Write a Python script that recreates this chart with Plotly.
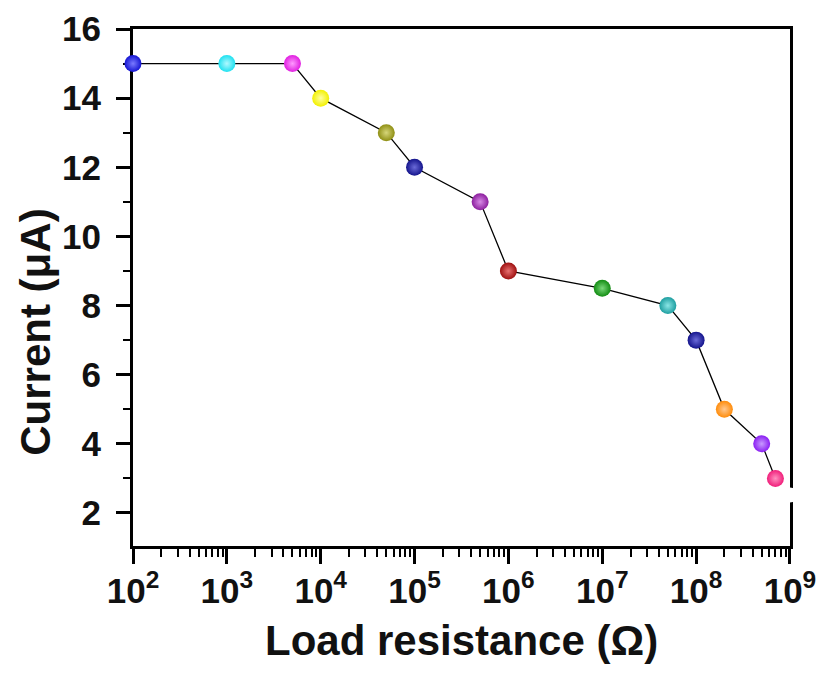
import plotly.graph_objects as go

# Data
resistance = [1e2, 1e3, 5e3, 1e4, 5e4, 1e5, 5e5, 1e6, 1e7, 5e7, 1e8, 2e8, 5e8, 7e8]
current = [15, 15, 15, 14, 13, 12, 11, 9, 8.5, 8, 7, 5, 4, 3]
colors = ["#1414d2", "#1ee1f0", "#e01ee0", "#f2f000", "#8f8f14", "#14148c",
          "#8c1e9e", "#9e1010", "#128c12", "#1e9ea0", "#14148c", "#ff8c0a",
          "#8a1ef2", "#f01e7a"]
light = ["#7a7aff", "#b0f8ff", "#ff9aff", "#ffffa0", "#d6d67a", "#6a6ad8",
         "#d88ae6", "#e87070", "#7ad87a", "#8ae6e6", "#6a6ad8", "#ffc890",
         "#c89aff", "#ff90c0"]
extra_resistance = [1e9]
extra_current = [2.52]

x_tickvals = [1e2, 1e3, 1e4, 1e5, 1e6, 1e7, 1e8, 1e9]
x_ticktext = ["10<sup>2</sup>", "10<sup>3</sup>", "10<sup>4</sup>", "10<sup>5</sup>",
              "10<sup>6</sup>", "10<sup>7</sup>", "10<sup>8</sup>", "10<sup>9</sup>"]
y_ticks = [2, 4, 6, 8, 10, 12, 14, 16]
y_minor = [3, 5, 7, 9, 11, 13, 15]

font_family = "Liberation Sans, Arial, sans-serif"
title_font = dict(family=font_family, size=42, color="#111", weight="bold")

fig = go.Figure()
fig.add_trace(go.Scatter(
    x=resistance, y=current, mode="lines",
    line=dict(color="black", width=1.3),
    hoverinfo="skip", cliponaxis=False, showlegend=False))
fig.add_trace(go.Scatter(
    x=resistance, y=current, mode="markers",
    marker=dict(size=17, color=colors, line=dict(width=0),
                gradient=dict(type="radial", color=light)),
    cliponaxis=False, showlegend=False))
fig.add_trace(go.Scatter(
    x=extra_resistance, y=extra_current, mode="markers",
    marker=dict(size=15, color="white", line=dict(width=0)),
    cliponaxis=False, showlegend=False))

axis_common = dict(
    showline=True, linecolor="black", linewidth=3, mirror=True,
    showgrid=False, zeroline=False, ticks="outside", tickcolor="black",
    tickwidth=2.5, layer="below traces", automargin=False,
    tickfont=dict(family=font_family, size=35, color="#111", weight="bold"),
)

fig.update_xaxes(
    type="log", range=[2, 9.0005], tickvals=x_tickvals, ticktext=x_ticktext,
    ticklen=15, ticklabelstandoff=-3,
    minor=dict(ticks="outside", ticklen=8, tickwidth=2, tickcolor="black",
               dtick="D1", showgrid=False),
    **axis_common)
fig.update_yaxes(
    range=[1.045, 16], tickvals=y_ticks, ticktext=[str(v) for v in y_ticks],
    ticklen=14, ticklabelstandoff=8,
    minor=dict(ticks="outside", ticklen=7, tickwidth=2, tickcolor="black",
               tickvals=y_minor, showgrid=False),
    **axis_common)

fig.add_annotation(text="Load resistance (Ω)", xref="paper", yref="paper",
                   x=0.5, y=-0.182, xanchor="center", yanchor="middle",
                   showarrow=False, font=title_font)
fig.add_annotation(text="Current (μA)", xref="paper", yref="paper",
                   x=-0.148, y=0.414, xanchor="center", yanchor="middle",
                   textangle=-90, showarrow=False, font=title_font)

fig.update_layout(
    width=823, height=674,
    margin=dict(l=133, r=33, t=29, b=128),
    plot_bgcolor="white", paper_bgcolor="white",
    font=dict(family=font_family),
)

fig.write_html("out.html", config={"displayModeBar": False},
               post_script="document.body.style.margin='0';document.body.style.overflow='hidden';")
